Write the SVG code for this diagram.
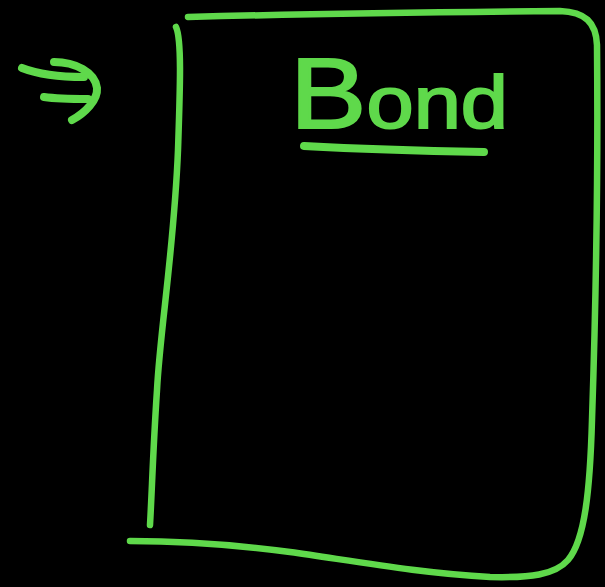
<svg xmlns="http://www.w3.org/2000/svg" width="605" height="587" viewBox="0 0 605 587">
<style>
.ink{fill:none;stroke:#5fd94b;stroke-width:6.5;stroke-linecap:round;stroke-linejoin:round}
.thick{stroke-width:8}
.t{font-family:"Liberation Sans",Arial,sans-serif;fill:#5fd94b;stroke:#5fd94b;stroke-width:2}
</style>
<rect width="605" height="587" fill="#000"/>
<g id="arrow">
<path class="ink thick" d="M22,68 C40,75 60,77 84,77"/>
<path class="ink thick" d="M44,97 C58,99 72,99 88,99"/>
<path class="ink thick" d="M54,62 C75,62 95,72 97,88 C98,100 85,113 72,120"/>
</g>
<g id="box">
<path class="ink" d="M176,27 C182,40 180,90 178,150 C174,250 160,330 157,390 C153,450 152,490 150,525"/>
<path class="ink" d="M188,17 C300,14 450,12 560,11 C585,12 596,22 597,45 C598,150 596,300 592,420 C590,490 585,540 568,560 C555,575 530,578 490,577 C420,573 360,562 290,552 C230,544 170,541 130,541"/>
</g>
<g id="title">
<text class="t" x="290" y="128" textLength="218" lengthAdjust="spacingAndGlyphs"><tspan font-size="100">B</tspan><tspan font-size="74">ond</tspan></text>
<path class="ink thick" d="M304,146 C360,149 430,151 484,152"/>
</g>
</svg>
